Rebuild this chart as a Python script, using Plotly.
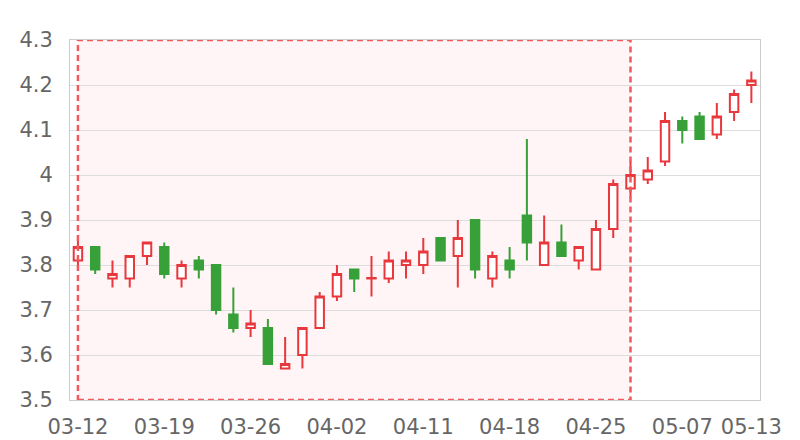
import plotly.graph_objects as go

dates = ["03-12", "03-13", "03-14", "03-15", "03-16",
         "03-19", "03-20", "03-21", "03-22", "03-23",
         "03-26", "03-27", "03-28", "03-29", "03-30",
         "04-02", "04-03", "04-04", "04-09", "04-10",
         "04-11", "04-12", "04-13", "04-16", "04-17",
         "04-18", "04-19", "04-20", "04-23", "04-24",
         "04-25", "04-26", "04-27", "05-03", "05-04",
         "05-07", "05-08", "05-09", "05-10", "05-13"]

open_ = [3.81, 3.84, 3.77, 3.77, 3.82, 3.84, 3.77, 3.81, 3.80, 3.69,
         3.66, 3.66, 3.57, 3.60, 3.66, 3.73, 3.79, 3.77, 3.77, 3.80,
         3.80, 3.86, 3.82, 3.90, 3.77, 3.81, 3.91, 3.80, 3.85, 3.81,
         3.79, 3.88, 3.97, 3.99, 4.03, 4.12, 4.13, 4.09, 4.14, 4.20]
close = [3.84, 3.79, 3.78, 3.82, 3.85, 3.78, 3.80, 3.79, 3.70, 3.66,
         3.67, 3.58, 3.58, 3.66, 3.73, 3.78, 3.77, 3.771, 3.81, 3.81,
         3.83, 3.81, 3.86, 3.79, 3.82, 3.79, 3.85, 3.85, 3.82, 3.84,
         3.88, 3.98, 4.00, 4.01, 4.12, 4.10, 4.08, 4.13, 4.18, 4.21]
high = [3.86, 3.84, 3.81, 3.82, 3.85, 3.85, 3.81, 3.82, 3.80, 3.75,
        3.70, 3.68, 3.64, 3.66, 3.74, 3.80, 3.79, 3.82, 3.83, 3.83,
        3.86, 3.86, 3.90, 3.90, 3.83, 3.84, 4.08, 3.91, 3.89, 3.84,
        3.90, 3.99, 4.03, 4.04, 4.14, 4.13, 4.14, 4.16, 4.19, 4.23]
low = [3.79, 3.78, 3.75, 3.75, 3.80, 3.77, 3.75, 3.77, 3.69, 3.65,
       3.64, 3.58, 3.57, 3.57, 3.66, 3.72, 3.74, 3.73, 3.76, 3.77,
       3.78, 3.81, 3.75, 3.77, 3.75, 3.77, 3.81, 3.80, 3.82, 3.79,
       3.79, 3.86, 3.95, 3.98, 4.02, 4.07, 4.08, 4.08, 4.12, 4.16]

tick_idx = [0, 5, 10, 15, 20, 25, 30, 35, 39]
y_ticks = [3.5, 3.6, 3.7, 3.8, 3.9, 4.0, 4.1, 4.2, 4.3]
y_labels = ["3.5", "3.6", "3.7", "3.8", "3.9", "4", "4.1", "4.2", "4.3"]
zone_start, zone_end = 0, 32

RED = "#e8383d"
GREEN = "#38a038"

xs = list(range(len(dates)))

fig = go.Figure()
fig.add_trace(go.Candlestick(
    x=xs, open=open_, high=high, low=low, close=close,
    increasing=dict(line=dict(color=RED, width=2), fillcolor="white"),
    decreasing=dict(line=dict(color=GREEN, width=2), fillcolor=GREEN),
    whiskerwidth=0, showlegend=False, hoverinfo="skip",
))

# shaded zone (fill below the data)
fig.add_shape(type="rect", xref="x", yref="y",
              x0=zone_start, x1=zone_end, y0=y_ticks[0], y1=y_ticks[-1],
              fillcolor="#fff5f6", line=dict(width=0), layer="below")
# dashed border drawn above the data
fig.add_shape(type="rect", xref="x", yref="y",
              x0=zone_start, x1=zone_end, y0=y_ticks[0], y1=y_ticks[-1],
              fillcolor="rgba(0,0,0,0)",
              line=dict(color="#f05a5e", width=2.5, dash="6px,4px"),
              layer="above")

fig.update_layout(
    width=792, height=432,
    margin=dict(l=62, r=40, t=32, b=40),
    paper_bgcolor="white", plot_bgcolor="white",
    font=dict(family="DejaVu Sans, sans-serif", size=21, color="#666666"),
    xaxis=dict(
        range=[-0.46, 39.5],
        tickvals=[xs[i] for i in tick_idx],
        ticktext=[dates[i] for i in tick_idx],
        showgrid=False, zeroline=False,
        showline=True, linecolor="#cccccc", linewidth=1, mirror=True,
        ticks="", rangeslider=dict(visible=False),
        tickfont=dict(size=21, color="#666666"),
        automargin=False, ticklabelstandoff=8,
    ),
    yaxis=dict(
        range=[3.5, 4.3],
        tickvals=y_ticks, ticktext=y_labels,
        showgrid=True, gridcolor="#dddddd", gridwidth=1,
        zeroline=False,
        showline=True, linecolor="#cccccc", linewidth=1, mirror=True,
        ticks="", ticklabelstandoff=12,
        tickfont=dict(size=21, color="#666666"),
        automargin=False,
    ),
)

fig.write_html("out.html")
